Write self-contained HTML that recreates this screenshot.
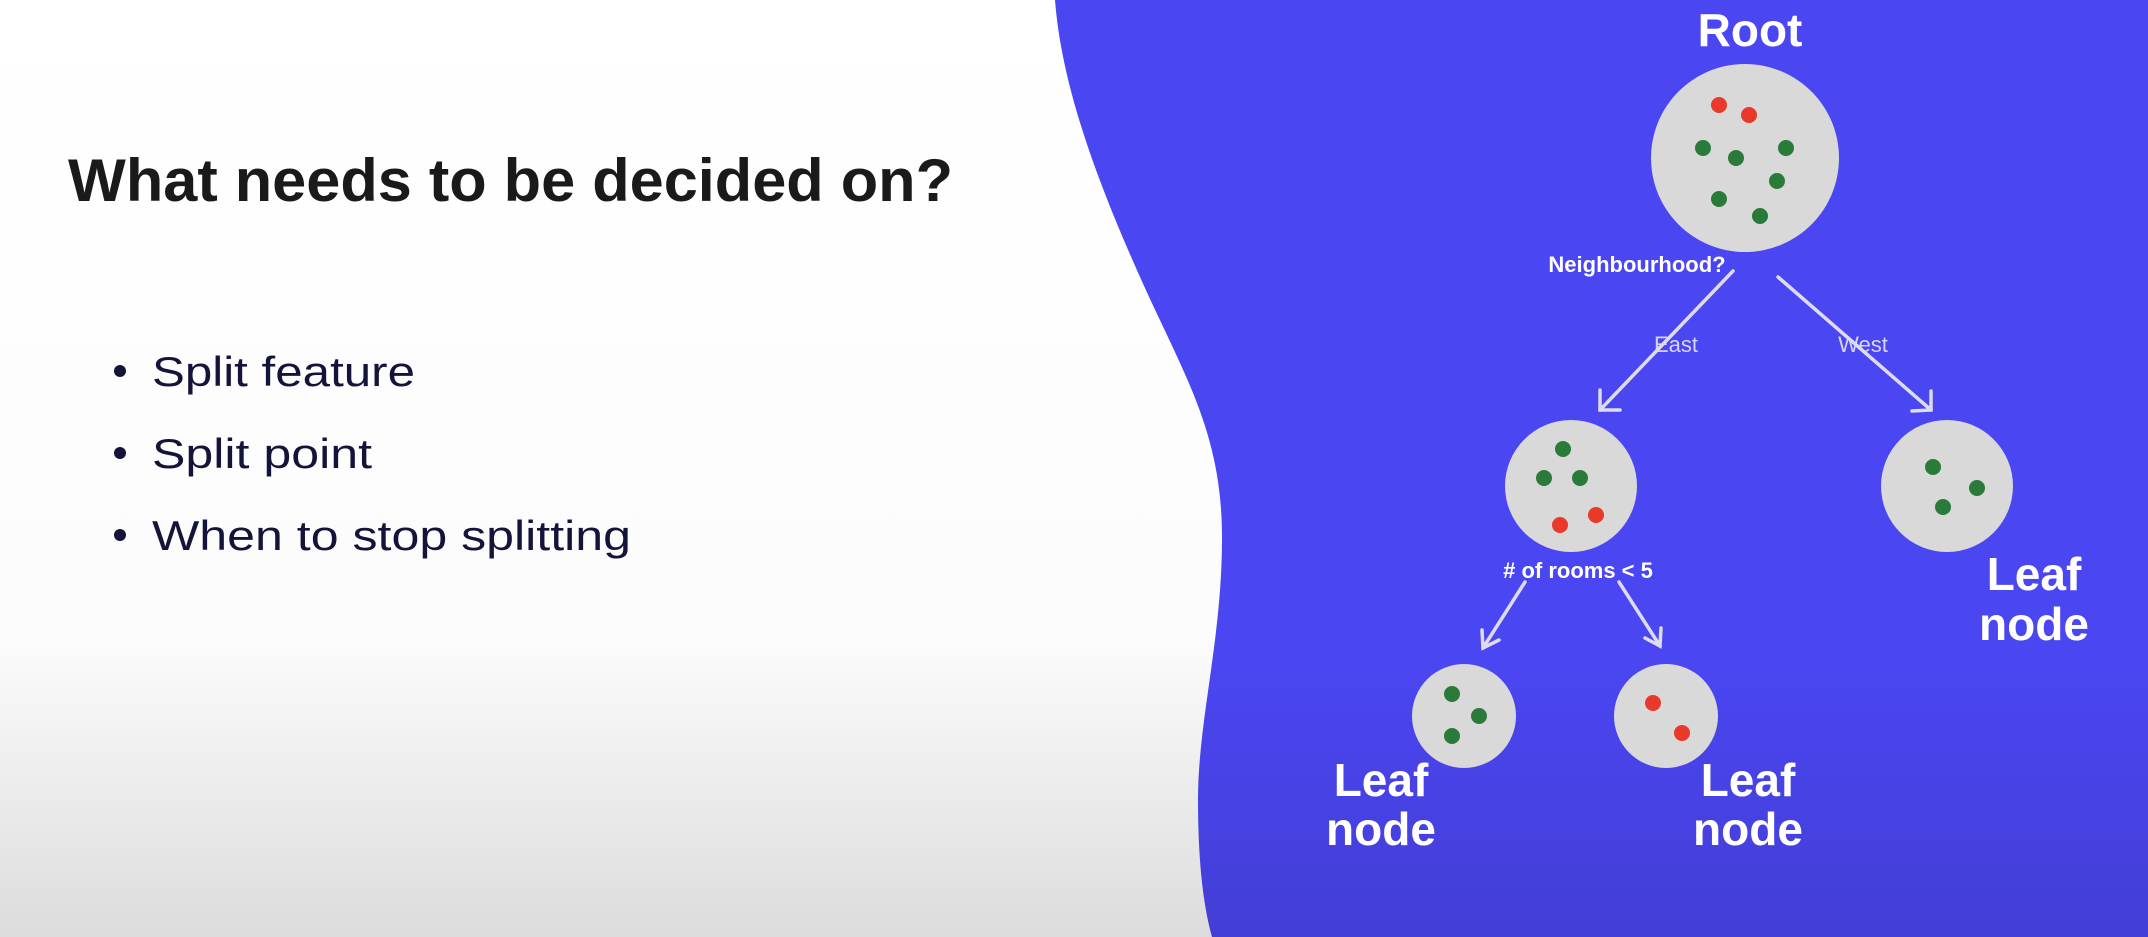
<!DOCTYPE html>
<html><head><meta charset="utf-8"><style>
html,body{margin:0;padding:0;width:2148px;height:937px;overflow:hidden;background:#fff}
svg{display:block}
text{font-family:"Liberation Sans",sans-serif}
</style></head><body>
<svg width="2148" height="937" viewBox="0 0 2148 937" xmlns="http://www.w3.org/2000/svg">
<defs>
<linearGradient id="bg" x1="0" y1="0" x2="0" y2="1">
<stop offset="0" stop-color="#ffffff"/><stop offset="0.68" stop-color="#fcfcfc"/><stop offset="1" stop-color="#dcdcdc"/>
</linearGradient>
<linearGradient id="bl" x1="0" y1="0" x2="0" y2="1">
<stop offset="0" stop-color="#4a46f2"/><stop offset="0.7" stop-color="#4a46f2"/><stop offset="1" stop-color="#433ed6"/>
</linearGradient>
</defs>
<rect width="2148" height="937" fill="url(#bg)"/>
<path d="M1055,0 C1062,90 1100,190 1150,299 C1190,385 1222,440 1222,538 C1222,640 1198,720 1198,800 C1198,860 1203,905 1212,937 L2148,937 L2148,0 Z" fill="url(#bl)"/>

<text x="68" y="201" font-size="60" font-weight="bold" fill="#1a1a1a" textLength="885" lengthAdjust="spacingAndGlyphs">What needs to be decided on?</text>
<g fill="#14143a" font-size="42">
<circle cx="120" cy="371" r="6"/><text x="152" y="386" textLength="263" lengthAdjust="spacingAndGlyphs">Split feature</text>
<circle cx="120" cy="453" r="6"/><text x="152" y="468" textLength="220" lengthAdjust="spacingAndGlyphs">Split point</text>
<circle cx="120" cy="535" r="6"/><text x="152" y="550" textLength="479" lengthAdjust="spacingAndGlyphs">When to stop splitting</text>
</g>

<g fill="#fff" font-weight="bold" text-anchor="middle">
<text x="1750" y="46" font-size="46">Root</text>
<text x="1637" y="272" font-size="22">Neighbourhood?</text>
<text x="1578" y="578" font-size="22"># of rooms &lt; 5</text>
<text x="2034" y="590" font-size="46">Leaf</text>
<text x="2034" y="640" font-size="46">node</text>
<text x="1381" y="796" font-size="46">Leaf</text>
<text x="1381" y="845" font-size="46">node</text>
<text x="1748" y="796" font-size="46">Leaf</text>
<text x="1748" y="845" font-size="46">node</text>
</g>
<g fill="#e4e4f4" font-size="22" text-anchor="middle" opacity="0.9">
<text x="1676" y="352">East</text>
<text x="1863" y="352">West</text>
</g>

<g stroke="#dcdcec" stroke-width="3.5" fill="none" stroke-linecap="round">
<line x1="1733" y1="271" x2="1600" y2="410"/><path d="M1600,390 L1600,410 L1620,410"/>
<line x1="1778" y1="277" x2="1931" y2="410"/><path d="M1912,411 L1931,410 L1931,391"/>
<line x1="1525" y1="582" x2="1483" y2="648"/><path d="M1482,630 L1483,648 L1499,640"/>
<line x1="1619" y1="582" x2="1660" y2="646"/><path d="M1645,638 L1660,646 L1661,628"/>
</g>

<g fill="#d9d9d9">
<circle cx="1745" cy="158" r="94"/>
<circle cx="1571" cy="486" r="66"/>
<circle cx="1947" cy="486" r="66"/>
<circle cx="1464" cy="716" r="52"/>
<circle cx="1666" cy="716" r="52"/>
</g>
<g fill="#e8392a">
<circle cx="1719" cy="105" r="8"/><circle cx="1749" cy="115" r="8"/>
<circle cx="1560" cy="525" r="8"/><circle cx="1596" cy="515" r="8"/>
<circle cx="1653" cy="703" r="8"/><circle cx="1682" cy="733" r="8"/>
</g>
<g fill="#2a7a3a">
<circle cx="1703" cy="148" r="8"/><circle cx="1736" cy="158" r="8"/><circle cx="1786" cy="148" r="8"/>
<circle cx="1777" cy="181" r="8"/><circle cx="1719" cy="199" r="8"/><circle cx="1760" cy="216" r="8"/>
<circle cx="1563" cy="449" r="8"/><circle cx="1544" cy="478" r="8"/><circle cx="1580" cy="478" r="8"/>
<circle cx="1933" cy="467" r="8"/><circle cx="1977" cy="488" r="8"/><circle cx="1943" cy="507" r="8"/>
<circle cx="1452" cy="694" r="8"/><circle cx="1479" cy="716" r="8"/><circle cx="1452" cy="736" r="8"/>
</g>
</svg>
</body></html>
